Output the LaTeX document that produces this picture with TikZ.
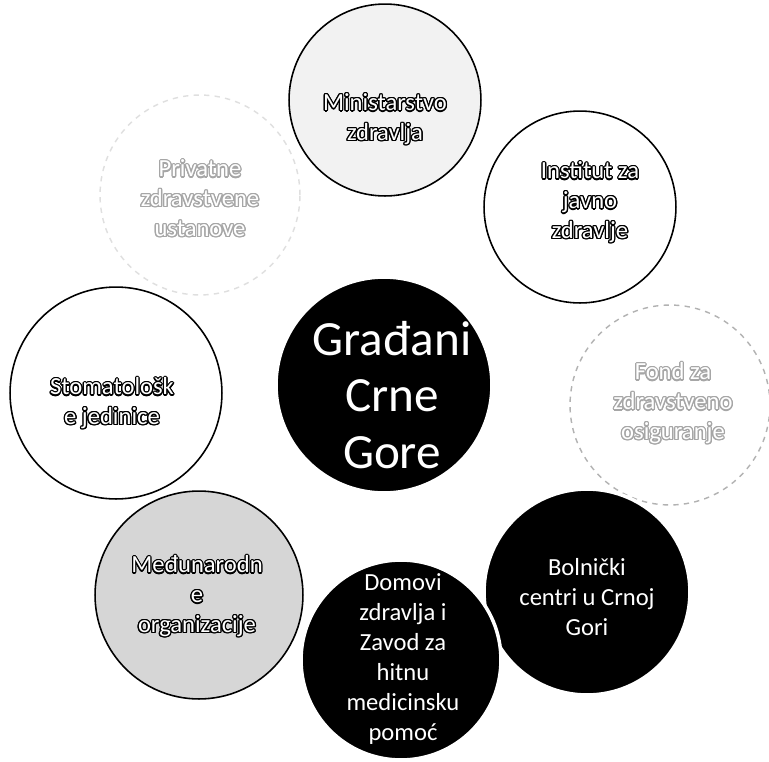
\documentclass[tikz,border=0pt]{standalone}
\usepackage{fontspec}
\setmainfont{Carlito}
\usepackage{contour}
\contourlength{0.7pt}
\usepackage{xcolor}
\newcommand{\ol}[1]{\textcolor{white}{\contour{black}{#1}}}
\newcommand{\fl}[1]{\textcolor{white}{\contour{gray!70}{#1}}}

\begin{document}
\begin{tikzpicture}[x=0.02cm,y=-0.02cm,
  bub/.style={circle,minimum size=#1*0.04cm,inner sep=0pt},
  light/.style={draw=black,line width=0.9pt},
  faint/.style={draw=gray!60,dashed,line width=0.8pt},
  dark/.style={fill=black,draw=white,line width=2pt},
  lbl/.style={align=center,font=\fontsize{14}{17}\selectfont},
  wlbl/.style={lbl,text=white}]
  \useasboundingbox[fill=white] (0,0) rectangle (769,762);
  % outer ring
  \node[bub=100,faint,draw=gray!25] (priv) at (200,195) {};
  \node[bub=96,light,fill=black!5] (minz) at (385,100) {};
  \node[bub=96,light,fill=white] (ijz) at (580,207) {};
  \node[bub=100,faint,fill=white] (fond) at (670,405) {};
  \node[bub=106,light,fill=white] (stom) at (116,393) {};
  \node[bub=104,light,fill=black!16] (medj) at (199,595) {};
  \node[bub=103,dark] (boln) at (587,592) {};
  \node[bub=100,dark] (dom) at (401,660) {};
  \node[bub=108,dark] (gradj) at (384,385) {};
  % texts
  \node[lbl] (privt) at (200,199) {\fl{Privatne}\\\fl{zdravstvene}\\\fl{ustanove}};
  \node[lbl] (minzt) at (385,120) {\ol{Ministarstvo}\\\ol{zdravlja}};
  \node[lbl] (ijzt) at (590,203) {\ol{Institut za}\\\ol{javno}\\\ol{zdravlje}};
  \node[lbl] (fondt) at (673,404) {\fl{Fond za}\\\fl{zdravstveno}\\\fl{osiguranje}};
  \node[lbl] (stomt) at (112,404) {\ol{Stomatološk}\\\ol{e jedinice}};
  \node[lbl] (medjt) at (197,597) {\ol{Međunarodn}\\\ol{e}\\\ol{organizacije}};
  \node[wlbl] (bolnt) at (587,597) {Bolnički\\centri u Crnoj\\Gori};
  \node[wlbl] (domt) at (403,659) {Domovi\\zdravlja i\\Zavod za\\hitnu\\medicinsku\\pomoć};
  \node[align=center,text=white,font=\fontsize{28}{32}\selectfont] (gradjt) at (392,395) {Građani\\Crne\\Gore};
\end{tikzpicture}
\end{document}
